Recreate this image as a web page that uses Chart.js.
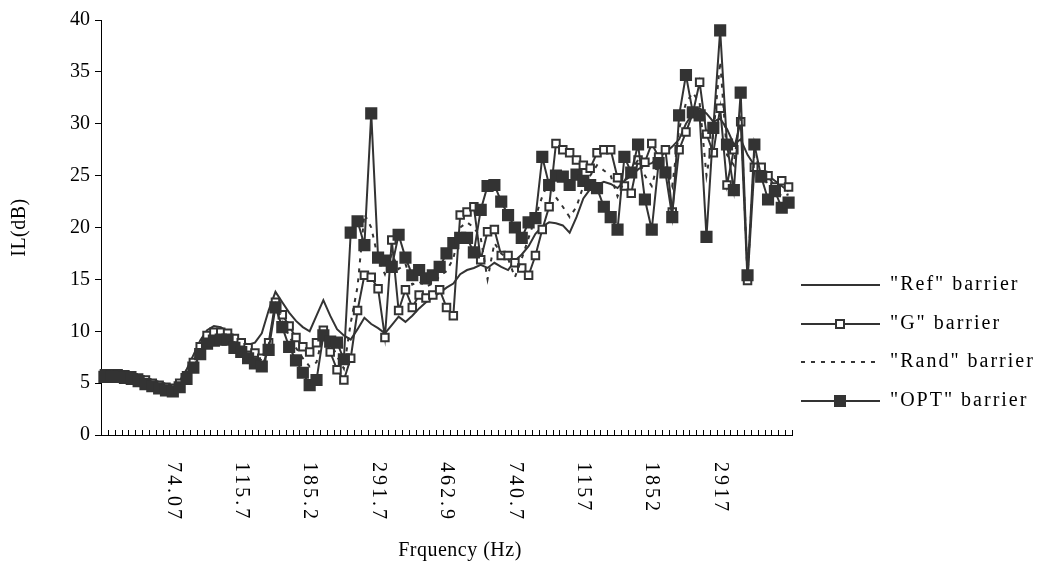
<!DOCTYPE html>
<html>
<head>
<meta charset="utf-8">
<script src="https://cdn.jsdelivr.net/npm/chart.js@4.4.1/dist/chart.umd.min.js"></script>
<style>
  html, body { margin: 0; padding: 0; background: #fff; }
</style>
</head>
<body>
<canvas id="ilChart" width="1048" height="567"></canvas>
<script>
// frequency labels that are printed on the axis, one every 10 bands from band 10
const freqLabels = ['74.07', '115.7', '185.2', '291.7', '462.9', '740.7', '1157', '1852', '2917'];
const firstLabelBand = 10;
const labelStep = 10;
const bandCount = 101;
const yTicks = [0, 5, 10, 15, 20, 25, 30, 35, 40];

const refBarrier = [
  5.8, 5.8, 5.8, 5.7, 5.6, 5.4, 5.1, 4.9, 4.7, 4.5,
  4.6, 5.2, 6.3, 7.7, 9.1, 10.1, 10.5, 10.4, 10.0, 9.5,
  9.0, 8.7, 8.9, 9.8, 12.0, 13.8, 12.8, 11.8, 11.0, 10.4,
  10.0, 11.5, 13.0, 11.5, 10.2, 9.6, 9.2, 10.2, 11.3, 10.7,
  10.3, 9.8, 10.6, 11.4, 10.9, 11.5, 12.2, 12.8, 13.3, 13.7,
  14.2, 14.6, 15.5, 15.9, 16.1, 16.4, 16.1, 16.6, 16.2, 15.9,
  16.8, 17.4, 18.2, 19.4, 20.1, 20.5, 20.4, 20.2, 19.5, 21.0,
  22.8, 23.7, 24.1, 24.4, 24.2, 23.8, 24.5, 25.0, 25.6, 26.0,
  26.2, 26.8, 27.2, 27.8, 28.5, 30.0, 31.0, 31.5, 31.0, 30.2,
  30.5, 29.5, 28.0, 28.5, 27.0, 26.0, 25.5, 25.0, 24.5, 24.0,
  23.5
];

const gBarrier = [
  5.9, 5.9, 5.9, 5.8, 5.7, 5.5, 5.3, 5.0, 4.8, 4.6,
  4.5, 5.0, 5.7, 7.0, 8.5, 9.6, 9.9, 9.9, 9.8, 9.3,
  8.9, 8.4, 7.9, 7.4, 8.9, 12.8, 11.6, 10.5, 9.4, 8.5,
  8.0, 8.9, 10.1, 8.0, 6.3, 5.3, 7.4, 12.0, 15.4, 15.2,
  14.1, 9.4, 18.8, 12.0, 14.0, 12.3, 13.5, 13.2, 13.5, 14.0,
  12.3, 11.5, 21.2, 21.5, 22.0, 16.9, 19.6, 19.8, 17.3, 17.3,
  16.6, 16.1, 15.4, 17.3, 19.8, 22.0, 28.1, 27.5, 27.2, 26.5,
  26.0, 25.7, 27.2, 27.5, 27.5, 24.8, 24.0, 23.3, 26.5, 26.3,
  28.1, 26.8, 27.5, 21.5, 27.5, 29.2, 31.0, 34.0, 29.0, 27.2,
  31.5, 24.1, 27.5, 30.2, 14.9, 25.8, 25.8, 25.0, 23.9, 24.5,
  23.9
];

const randBarrier = [
  5.7, 5.7, 5.7, 5.6, 5.5, 5.3, 5.1, 4.9, 4.7, 4.5,
  4.4, 4.8, 5.5, 6.7, 8.1, 9.1, 9.4, 9.5, 9.5, 8.9,
  8.5, 8.0, 7.5, 7.2, 8.6, 12.6, 11.0, 9.5, 8.4, 7.4,
  6.6, 7.0, 9.8, 9.0, 7.6, 6.4, 10.8, 14.3, 21.3, 20.0,
  17.0, 15.5, 17.5, 16.0, 16.5, 14.5, 14.8, 14.3, 14.6, 15.3,
  15.8, 17.0, 20.0, 20.5, 20.0, 19.0, 15.0, 18.5, 17.5, 17.0,
  15.2, 17.0, 19.0, 21.0, 23.0, 24.5, 22.9, 22.0, 21.0, 22.0,
  24.0, 25.0, 26.0, 25.5, 25.0, 23.0, 24.5, 25.5, 26.5, 25.0,
  24.0, 26.5, 26.0, 24.0, 29.5, 32.0, 33.0, 32.0, 25.0, 29.0,
  36.0, 27.0, 26.0, 31.5, 15.2, 27.0, 25.5, 24.0, 23.8, 23.0,
  23.2
];

const optBarrier = [
  5.6, 5.6, 5.6, 5.5, 5.4, 5.2, 4.9, 4.7, 4.5, 4.3,
  4.2, 4.6, 5.4, 6.5, 7.8, 8.8, 9.1, 9.2, 9.2, 8.4,
  8.0, 7.4, 6.9, 6.6, 8.2, 12.3, 10.4, 8.5, 7.2, 6.0,
  4.8, 5.3, 9.6, 9.0, 8.9, 7.3, 19.5, 20.6, 18.3, 31.0,
  17.1, 16.8, 16.2, 19.3, 17.1, 15.4, 15.9, 15.1, 15.4, 16.2,
  17.5, 18.5, 19.0, 19.0, 17.6, 21.7, 24.0, 24.1, 22.5, 21.2,
  20.0, 19.0, 20.5, 20.9, 26.8, 24.1, 25.0, 24.9, 24.1, 25.1,
  24.5, 24.1, 23.8, 22.0, 21.0, 19.8, 26.8, 25.3, 28.0, 22.7,
  19.8, 26.2, 25.3, 21.0, 30.8, 34.7, 31.1, 30.8, 19.1, 29.6,
  39.0, 28.0, 23.6, 33.0, 15.4, 28.0, 24.9, 22.7, 23.5, 21.9,
  22.4
];

const seriesNames = ['"Ref" barrier', '"G" barrier', '"Rand" barrier', '"OPT" barrier'];

const ink = '#333333';
const fontFamily = '"Liberation Serif", "Times New Roman", serif';
const fontSize = 20;

// category names: only the printed bands carry text
const bands = Array.from({ length: bandCount }, (_, i) => {
  const k = (i - firstLabelBand) / labelStep;
  return Number.isInteger(k) && k >= 0 && k < freqLabels.length ? freqLabels[k] : '';
});

const decorations = {
  id: 'decorations',
  afterDraw(chart) {
    const { ctx, chartArea } = chart;
    const x = chart.scales.x;
    ctx.save();

    // inside tick marks between the bands
    ctx.strokeStyle = '#000';
    ctx.lineWidth = 1;
    ctx.beginPath();
    for (let k = 0; k <= bandCount; k++) {
      let px;
      if (k === 0) px = chartArea.left;
      else if (k === bandCount) px = chartArea.right;
      else px = (x.getPixelForValue(k - 1) + x.getPixelForValue(k)) / 2;
      px = Math.round(px) + 0.5;
      ctx.moveTo(px, chartArea.bottom);
      ctx.lineTo(px, chartArea.bottom - 5);
    }
    ctx.stroke();

    // rotated frequency labels
    ctx.fillStyle = '#000';
    ctx.font = fontSize + 'px ' + fontFamily;
    ctx.textAlign = 'left';
    ctx.textBaseline = 'middle';
    ctx.letterSpacing = '3px';
    bands.forEach((lab, i) => {
      if (!lab) return;
      ctx.save();
      ctx.translate(x.getPixelForValue(i), chartArea.bottom + 27);
      ctx.rotate(Math.PI / 2);
      ctx.fillText(lab, 0, 0);
      ctx.restore();
    });

    // axis titles
    ctx.letterSpacing = '0.5px';
    ctx.textAlign = 'center';
    ctx.fillText('Frquency (Hz)', 460, 551);
    ctx.save();
    ctx.translate(20, (chartArea.top + chartArea.bottom) / 2);
    ctx.rotate(-Math.PI / 2);
    ctx.fillText('IL(dB)', 0, 0);
    ctx.restore();

    // legend
    const legendY = [285, 324, 362, 401];
    const x0 = 801, x1 = 880, xm = 840;
    ctx.lineWidth = 2;
    ctx.strokeStyle = ink;
    ctx.letterSpacing = '2px';
    legendY.forEach((ly, i) => {
      ctx.setLineDash(i === 2 ? [4, 6] : []);
      ctx.beginPath();
      ctx.moveTo(x0, ly);
      ctx.lineTo(x1, ly);
      ctx.stroke();
      ctx.setLineDash([]);
      if (i === 1) {
        ctx.fillStyle = '#fff';
        ctx.fillRect(xm - 4, ly - 4, 8, 8);
        ctx.strokeRect(xm - 4, ly - 4, 8, 8);
      } else if (i === 3) {
        ctx.fillStyle = ink;
        ctx.fillRect(xm - 6, ly - 6, 12, 12);
      }
      ctx.fillStyle = '#000';
      ctx.textAlign = 'left';
      ctx.fillText(seriesNames[i], 890, ly);
    });
    ctx.restore();
  }
};

new Chart(document.getElementById('ilChart'), {
  type: 'line',
  data: {
    labels: bands,
    datasets: [
      {
        label: seriesNames[0],
        data: refBarrier,
        borderColor: ink,
        borderWidth: 2,
        pointRadius: 0,
        tension: 0,
        order: 3
      },
      {
        label: seriesNames[1],
        data: gBarrier,
        borderColor: ink,
        borderWidth: 2,
        pointStyle: 'rect',
        pointRadius: 5.3,
        pointBorderWidth: 2,
        pointBackgroundColor: '#fff',
        pointBorderColor: ink,
        tension: 0,
        order: 2
      },
      {
        label: seriesNames[2],
        data: randBarrier,
        borderColor: ink,
        borderWidth: 2,
        borderDash: [4, 6],
        pointRadius: 0,
        tension: 0,
        order: 1
      },
      {
        label: seriesNames[3],
        data: optBarrier,
        borderColor: ink,
        borderWidth: 2,
        pointStyle: 'rect',
        pointRadius: 8.6,
        pointBorderWidth: 0,
        pointBackgroundColor: ink,
        pointBorderColor: ink,
        tension: 0,
        order: 0
      }
    ]
  },
  options: {
    responsive: false,
    animation: false,
    devicePixelRatio: 1,
    layout: { padding: { left: 0, right: 256, top: 20, bottom: 0 } },
    plugins: {
      legend: { display: false },
      tooltip: { enabled: false }
    },
    scales: {
      x: {
        type: 'category',
        offset: true,
        grid: { display: false },
        border: { display: true, color: '#000', width: 1 },
        ticks: { display: false },
        afterFit(scale) { scale.height = 132; }
      },
      y: {
        min: 0,
        max: 40,
        afterBuildTicks(scale) { scale.ticks = yTicks.map(v => ({ value: v })); },
        grid: { drawOnChartArea: false, drawTicks: true, tickLength: 6, color: '#000' },
        border: { display: true, color: '#000', width: 1 },
        ticks: {
          color: '#000',
          padding: 5,
          font: { family: fontFamily, size: fontSize }
        },
        afterFit(scale) { scale.width = 101; }
      }
    }
  },
  plugins: [decorations]
});
</script>
</body>
</html>
